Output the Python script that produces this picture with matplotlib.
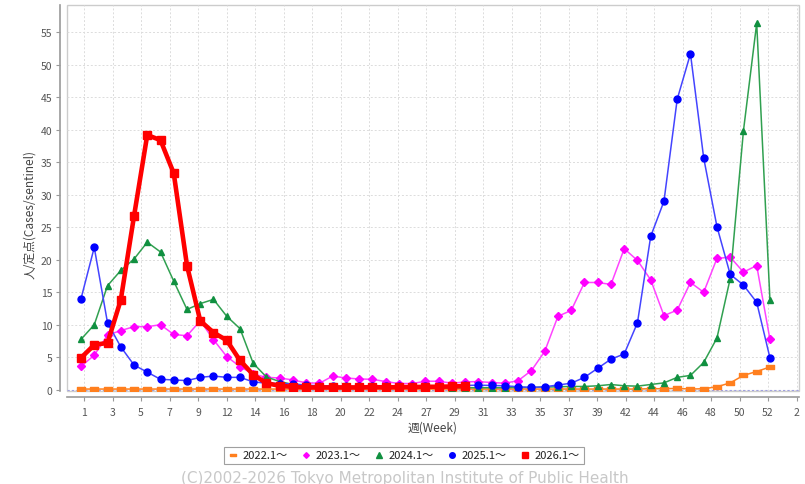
import matplotlib
matplotlib.use('Agg')
import matplotlib.pyplot as plt
from matplotlib.patches import Rectangle

plt.rcParams['font.family'] = ['Noto Sans CJK JP', 'DejaVu Sans']
plt.rcParams['axes.unicode_minus'] = False

# week slots 1..53
weeks = list(range(1, 54))

s2022 = [0.1, 0.1, 0.1, 0.1, 0.1, 0.1, 0.1, 0.1, 0.1, 0.1,
         0.1, 0.1, 0.1, 0.1, 0.1, 0.1, 0.1, 0.1, 0.1, 0.1,
         0.1, 0.1, 0.1, 0.1, 0.1, 0.1, 0.1, 0.1, 0.1, 0.1,
         0.1, 0.1, 0.1, 0.1, 0.1, 0.1, 0.1, 0.1, 0.1, 0.1,
         0.1, 0.1, 0.1, 0.15, 0.15, 0.2, 0.1, 0.15, 0.45, 1.05,
         2.2, 2.8, 3.5]
s2023 = [3.6, 5.3, 8.4, 9.1, 9.7, 9.7, 10.0, 8.5, 8.3, 10.6,
         7.7, 5.1, 3.55, 2.4, 1.9, 1.8, 1.5, 1.05, 1.0, 2.1,
         1.8, 1.65, 1.6, 1.25, 0.95, 0.95, 1.3, 1.3, 1.0, 1.2,
         1.25, 1.1, 1.0, 1.4, 2.95, 5.9, 11.3, 12.2, 16.5, 16.5,
         16.2, 21.7, 19.9, 16.9, 11.4, 12.25, 16.5, 15.0, 20.2, 20.4,
         18.1, 19.1, 7.75]
s2024 = [7.75, 10.0, 16.0, 18.35, 20.1, 22.7, 21.2, 16.7, 12.35, 13.25,
         13.9, 11.3, 9.4, 4.05, 1.95, 1.25, 0.8, 0.6, 0.5, 0.45,
         0.4, 0.4, 0.35, 0.35, 0.3, 0.3, 0.3, 0.3, 0.3, 0.3,
         0.3, 0.3, 0.3, 0.35, 0.35, 0.4, 0.45, 0.5, 0.5, 0.6,
         0.8, 0.6, 0.55, 0.8, 1.05, 1.9, 2.2, 4.2, 7.95, 17.1,
         39.85, 56.4, 13.8]
s2025 = [14.0, 21.9, 10.3, 6.6, 3.8, 2.7, 1.6, 1.5, 1.4, 1.9,
         2.1, 1.9, 1.9, 1.2, 1.0, 0.95, 0.9, 0.7, 0.6, 0.6,
         0.5, 0.5, 0.5, 0.5, 0.5, 0.55, 0.55, 0.6, 0.6, 0.65,
         0.7, 0.65, 0.6, 0.45, 0.35, 0.45, 0.72, 1.0, 1.9, 3.3,
         4.7, 5.5, 10.3, 23.6, 29.0, 44.7, 51.7, 35.65, 25.1, 17.75,
         16.1, 13.45, 4.9]
s2026 = [4.9, 6.9, 7.2, 13.8, 26.7, 39.2, 38.4, 33.3, 19.1, 10.6,
         8.8, 7.6, 4.5, 2.3, 1.0, 0.6, 0.45, 0.35, 0.35, 0.35,
         0.35, 0.35, 0.4, 0.35, 0.4, 0.4, 0.45, 0.45, 0.5, 0.55]

xlabels = ['1', '3', '5', '7', '9', '12', '14', '16', '18', '20', '22', '24', '27',
           '29', '31', '33', '35', '37', '39', '42', '44', '46', '48', '50', '52', '2']
legend_labels = ['2022.1～', '2023.1～', '2024.1～', '2025.1～', '2026.1～']

W, H = 805, 485
fig = plt.figure(figsize=(W / 100, H / 100), dpi=100)
fig.patch.set_facecolor('white')

# plot area in pixels
L, R, T, B = 66.7, 798.7, 5.7, 392.0
ax = fig.add_axes([L / W, 1 - B / H, (R - L) / W, (B - T) / H])
ax.set_xlim(-0.08, 55.17)
ax.set_ylim(-0.2, 59.25)

# light frame of the plot area
ax.add_patch(Rectangle((0, 0), 1, 1, transform=ax.transAxes, fill=False,
                       ec='#cccccc', lw=1.0, zorder=0.5, clip_on=False))

tpos = [1.23 + i * 2.151 for i in range(len(xlabels))]
ax.set_xticks(tpos)
ax.set_xticklabels(xlabels)
ax.set_yticks(range(0, 56, 5))
ax.grid(True, color='#dcdcdc', ls=(0, (2, 2)), lw=0.7)
ax.set_axisbelow(True)
ax.axhline(0, color='#a0a0e0', ls=(0, (2, 2)), lw=0.8, zorder=1)

for sp in ['top', 'right']:
    ax.spines[sp].set_visible(False)
ax.spines['left'].set_position(('outward', 4.5))
ax.spines['bottom'].set_position(('outward', 4.5))
ax.spines['left'].set_color('#999999')
ax.spines['bottom'].set_color('#999999')
ax.spines['left'].set_linewidth(1.2)
ax.spines['bottom'].set_linewidth(1.2)
ax.tick_params(axis='both', colors='#999999', labelcolor='#555555',
               labelsize=7.5, length=3, width=0.8)
ax.tick_params(axis='x', pad=4)
ax.tick_params(axis='y', pad=3)

rect = [(-1, -0.45), (1, -0.45), (1, 0.45), (-1, 0.45), (-1, -0.45)]

ax.plot(weeks, s2022, color='#ff7f1e', lw=1.1, marker=rect, ms=5.5, mec='#ff7f1e',
        label=legend_labels[0], zorder=3)
ax.plot(weeks, s2023, color='#ff44ff', lw=1.1, marker='D', ms=3.6, mfc='#ff00ff', mec='#ff00ff',
        label=legend_labels[1], zorder=3)
ax.plot(weeks, s2024, color='#30a050', lw=1.1, marker='^', ms=5, mfc='#109040', mec='#109040',
        label=legend_labels[2], zorder=3)
ax.plot(weeks, s2025, color='#4444ff', lw=1.1, marker='o', ms=5, mfc='#0000ff', mec='#0000ff',
        label=legend_labels[3], zorder=4)
ax.plot(weeks[:len(s2026)], s2026, color='#ff0000', lw=3.3, marker='s', ms=5.8, mfc='#ff0000', mec='#ff0000',
        label=legend_labels[4], zorder=5)

fig.text(30 / W, 1 - 215 / H, '人/定点(Cases/sentinel)', rotation=90, ha='center', va='center',
         fontsize=8.5, color='#444444')
fig.text(433 / W, 1 - 428 / H, '週(Week)', ha='center', va='center', fontsize=8.5, color='#444444')

leg = fig.legend(loc='center', bbox_to_anchor=(404 / W, 1 - 456.5 / H), ncol=5, fontsize=8,
                 frameon=True, fancybox=False, edgecolor='#888888', handlelength=0.8,
                 handletextpad=0.5, columnspacing=1.2, borderpad=0.35, markerscale=0.8)
leg.get_frame().set_linewidth(0.8)
for h in leg.legend_handles:
    h.set_linestyle('none')
for t in leg.get_texts():
    t.set_color('#222222')

fig.text(405 / W, 1 - 479 / H, '(C)2002-2026 Tokyo Metropolitan Institute of Public Health',
         ha='center', va='center', fontsize=11, color='#c8c8c8', family=['DejaVu Sans'])

fig.savefig('out.png', dpi=100)
